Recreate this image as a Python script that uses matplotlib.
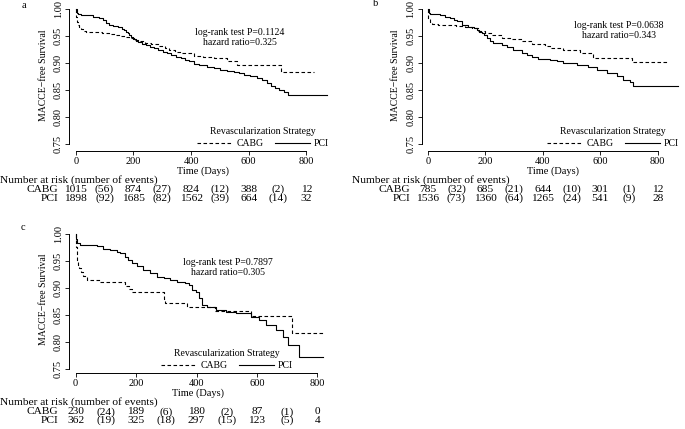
import matplotlib
matplotlib.use("Agg")
import matplotlib.pyplot as plt
from matplotlib import transforms
from matplotlib.lines import Line2D

# ---- data ----
risk_times = [0, 200, 400, 600, 800]
event_times = [100, 300, 500, 700]

# panel a
a_cabg_t = [0, 2, 5, 8, 12, 18, 25, 35, 60, 90, 117, 135, 152, 170, 186, 204, 220, 240, 260, 290,
            310, 324, 345, 370, 410, 440, 479, 525, 560, 712, 825]
a_cabg_s = [1.0, 0.985, 0.976, 0.970, 0.966, 0.963, 0.960, 0.958, 0.957, 0.956, 0.954, 0.952, 0.950,
            0.948, 0.946, 0.943, 0.940, 0.937, 0.935, 0.931, 0.927, 0.924, 0.921, 0.918, 0.913, 0.911,
            0.909, 0.904, 0.896, 0.883, 0.883]
a_pci_t = [0, 3, 8, 20, 40, 60, 80, 95, 105, 117, 130, 146, 160, 169, 175, 180, 186, 192, 200, 208,
           215, 230, 244, 258, 272, 286, 301, 315, 330, 347, 364, 378, 393, 410, 428, 456, 480, 502,
           525, 548, 565, 583, 605, 629, 645, 663, 678, 692, 705, 721, 735, 870]
a_pci_s = [1.0, 0.993, 0.990, 0.989, 0.988, 0.986, 0.983, 0.980, 0.975, 0.970, 0.968, 0.966, 0.963,
           0.961, 0.958, 0.955, 0.952, 0.949, 0.945, 0.941, 0.938, 0.935, 0.933, 0.930, 0.927, 0.924,
           0.921, 0.918, 0.915, 0.912, 0.909, 0.906, 0.903, 0.899, 0.896, 0.893, 0.890, 0.887, 0.885,
           0.884, 0.881, 0.878, 0.875, 0.872, 0.868, 0.863, 0.858, 0.853, 0.850, 0.847, 0.841, 0.841]
a_cabg_risk = [1015, 874, 824, 388, 12]
a_cabg_events = [56, 27, 12, 2]
a_pci_risk = [1898, 1685, 1562, 664, 32]
a_pci_events = [92, 82, 39, 14]
a_stats = "log-rank test P=0.1124\nhazard ratio=0.325"

# panel b
b_cabg_t = [0, 2, 8, 14, 37, 100, 130, 153, 176, 199, 223, 257, 292, 327, 362, 408, 425, 472, 530,
            576, 709, 837]
b_cabg_s = [1.0, 0.982, 0.976, 0.973, 0.970, 0.968, 0.967, 0.964, 0.960, 0.956, 0.951, 0.947, 0.944,
            0.940, 0.936, 0.931, 0.928, 0.924, 0.919, 0.910, 0.901, 0.901]
b_pci_t = [0, 3, 8, 43, 60, 77, 90, 101, 118, 141, 160, 170, 180, 188, 196, 205, 215, 228, 257, 275,
           298, 327, 345, 362, 385, 425, 449, 472, 518, 559, 588, 622, 657, 680, 703, 715, 871]
b_pci_s = [1.0, 0.993, 0.990, 0.989, 0.986, 0.983, 0.980, 0.977, 0.970, 0.967, 0.965, 0.961, 0.958,
           0.955, 0.951, 0.946, 0.941, 0.937, 0.934, 0.929, 0.924, 0.918, 0.915, 0.912, 0.907, 0.905,
           0.903, 0.900, 0.896, 0.893, 0.887, 0.882, 0.876, 0.869, 0.864, 0.858, 0.858]
b_cabg_risk = [785, 685, 644, 301, 12]
b_cabg_events = [32, 21, 10, 1]
b_pci_risk = [1536, 1360, 1265, 541, 28]
b_pci_events = [73, 64, 24, 9]
b_stats = "log-rank test P=0.0638\nhazard ratio=0.343"

# panel c
c_cabg_t = [0, 2, 4, 6, 8, 12, 18, 25, 38, 80, 163, 175, 186, 291, 296, 369, 460, 580, 717, 820]
c_cabg_s = [1.0, 0.975, 0.960, 0.950, 0.943, 0.937, 0.930, 0.922, 0.915, 0.911, 0.903, 0.898, 0.892,
            0.880, 0.873, 0.864, 0.858, 0.848, 0.816, 0.816]
c_pci_t = [0, 2, 4, 13, 58, 69, 91, 113, 136, 147, 163, 174, 186, 202, 224, 247, 269, 291, 313, 336,
           363, 374, 386, 397, 408, 419, 436, 463, 497, 530, 580, 608, 630, 663, 686, 704, 738, 820]
c_pci_s = [1.0, 0.99, 0.983, 0.980, 0.979, 0.977, 0.973, 0.970, 0.967, 0.964, 0.958, 0.952, 0.946,
           0.940, 0.933, 0.927, 0.921, 0.918, 0.915, 0.912, 0.909, 0.906, 0.896, 0.893, 0.881, 0.869,
           0.864, 0.860, 0.856, 0.853, 0.847, 0.840, 0.832, 0.822, 0.809, 0.795, 0.772, 0.772]
c_cabg_risk = [230, 189, 180, 87, 0]
c_cabg_events = [24, 6, 2, 1]
c_pci_risk = [362, 325, 297, 123, 4]
c_pci_events = [19, 18, 15, 5]
c_stats = "log-rank test P=0.7897\nhazard ratio=0.305"

plt.rcParams['font.family'] = 'Liberation Serif'
plt.rcParams['font.size'] = 7
plt.rcParams['axes.linewidth'] = 0.7

W, H = 685, 429
TABLE_FS = 8.2
TICK_FS = 7.5
fig = plt.figure(figsize=(W / 100, H / 100), dpi=100)


def px_axes(left, top, right, bottom):
    return fig.add_axes([left / W, 1 - bottom / H, (right - left) / W, (bottom - top) / H])


def km_panel(ax, xlim, ylim, cabg_t, cabg_s, pci_t, pci_s, stats, stats_xy, leg_anchor):
    ax.step(cabg_t, cabg_s, where='post', color='black', lw=0.8, dashes=(3.2, 2.2))
    ax.step(pci_t, pci_s, where='post', color='black', lw=0.8)
    ax.set_xlim(xlim)
    ax.set_ylim(ylim)
    ax.patch.set_visible(False)
    ax.spines['top'].set_visible(False)
    ax.spines['right'].set_visible(False)
    ax.spines['left'].set_bounds(0.75, 1.0)
    ax.spines['bottom'].set_bounds(0, 800)
    ax.set_xticks(risk_times)
    ticks = [0.75, 0.80, 0.85, 0.90, 0.95, 1.00]
    ax.set_yticks(ticks)
    ax.set_yticklabels([f"{t:.2f}" for t in ticks], rotation=90, va='center')
    ax.tick_params(length=3, width=0.6, pad=1.5, labelsize=TICK_FS)
    ax.set_xlabel('Time (Days)', labelpad=0.3, fontsize=TICK_FS)
    ax.set_ylabel('MACCE\u2212free Survival', labelpad=4.5)
    ax.text(stats_xy[0], stats_xy[1], stats, ha='center', va='center',
            multialignment='center', linespacing=1.1)
    handles = [Line2D([], [], color='black', lw=0.8, dashes=(3.2, 2.2)),
               Line2D([], [], color='black', lw=0.8)]
    ax.legend(handles, ['CABG', 'PCI'], ncol=2, frameon=False, title='Revascularization Strategy',
              title_fontsize=7, fontsize=7, loc='lower right',
              bbox_to_anchor=(leg_anchor[0] / W, 1 - leg_anchor[1] / H),
              bbox_transform=fig.transFigure, borderpad=0, borderaxespad=0,
              handlelength=3.6, handletextpad=0.4, columnspacing=1.2, labelspacing=0.3)


def risk_table(ax, left_px, label_right_px, rows_px, cabg_risk, cabg_events, pci_risk, pci_events):
    tr = transforms.blended_transform_factory(ax.transData, fig.transFigure)
    fig.text(left_px / W, 1 - rows_px[0] / H, 'Number at risk (number of events)',
             ha='left', va='center', fontsize=TABLE_FS)
    for name, y, risk, events in [('CABG', rows_px[1], cabg_risk, cabg_events),
                                  ('PCI', rows_px[2], pci_risk, pci_events)]:
        fig.text(label_right_px / W, 1 - y / H, name, ha='right', va='center', fontsize=TABLE_FS)
        for t, n in zip(risk_times, risk):
            ax.text(t, 1 - y / H, str(n), transform=tr, ha='center', va='center',
                    clip_on=False, fontsize=TABLE_FS)
        for t, e in zip(event_times, events):
            ax.text(t, 1 - y / H, f"({e})", transform=tr, ha='center', va='center',
                    clip_on=False, fontsize=TABLE_FS)


# panel a
ax_a = px_axes(69, 0, 337, 151)
km_panel(ax_a, (-23.2, 906), (0.737, 1.0167), a_cabg_t, a_cabg_s, a_pci_t, a_pci_s,
         a_stats, (569, 0.947), (329, 148))
risk_table(ax_a, 0, 58, (180, 189.5, 198.5), a_cabg_risk, a_cabg_events, a_pci_risk, a_pci_events)
fig.text(24 / W, 1 - 5 / H, 'a', ha='center', va='center', fontsize=7.5)

# panel b
ax_b = px_axes(421.7, 0, 685, 151)
km_panel(ax_b, (-21, 895), (0.737, 1.0167), b_cabg_t, b_cabg_s, b_pci_t, b_pci_s,
         b_stats, (665, 0.960), (679, 148))
risk_table(ax_b, 352, 410, (180.5, 189.5, 198.5), b_cabg_risk, b_cabg_events, b_pci_risk, b_pci_events)
fig.text(376 / W, 1 - 4 / H, 'b', ha='center', va='center', fontsize=7.5)

# panel c
ax_c = px_axes(69, 226, 328, 373)
km_panel(ax_c, (-22, 835), (0.7426, 1.0148), c_cabg_t, c_cabg_s, c_pci_t, c_pci_s,
         c_stats, (504, 0.938), (293, 370))
risk_table(ax_c, 0, 58, (402.5, 412, 420.5), c_cabg_risk, c_cabg_events, c_pci_risk, c_pci_events)
fig.text(23 / W, 1 - 228 / H, 'c', ha='center', va='center', fontsize=7.5)

fig.savefig('out.png', dpi=100)
